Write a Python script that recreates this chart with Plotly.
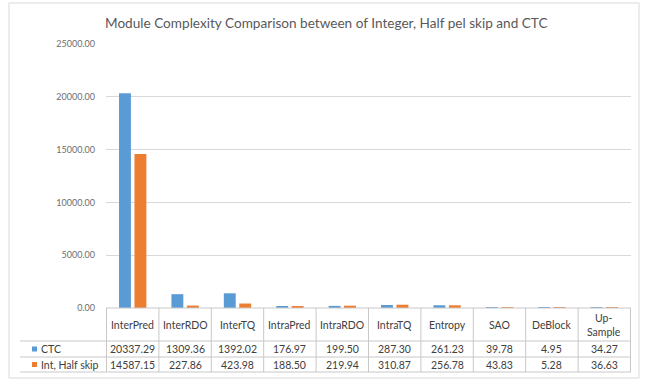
import plotly.graph_objects as go

# Module names and per-module complexity for the two configurations
modules = ["InterPred", "InterRDO", "InterTQ", "IntraPred", "IntraRDO",
           "IntraTQ", "Entropy", "SAO", "DeBlock", "Up-Sample"]
module_labels = ["InterPred", "InterRDO", "InterTQ", "IntraPred", "IntraRDO",
                 "IntraTQ", "Entropy", "SAO", "DeBlock", "Up-<br>Sample"]
ctc = [20337.29, 1309.36, 1392.02, 176.97, 199.50, 287.30, 261.23, 39.78, 4.95, 34.27]
int_half = [14587.15, 227.86, 423.98, 188.50, 219.94, 310.87, 256.78, 43.83, 5.28, 36.63]
series_names = ["CTC", "Int, Half skip"]
series_values = [ctc, int_half]
series_colors = ["#5B9BD5", "#ED7D31"]

title_text = "Module Complexity Comparison between of Integer, Half pel skip and CTC"

W, H = 650, 380
L, R, T, B = 106, 19, 44, 72
PW, PH = W - L - R, H - T - B
FONT = "Lato, 'Open Sans', sans-serif"
TEXT = "#404040"
GRID = "#D9D9D9"
LINE = "#C8C8C8"
TABLE_SIZE = 10.5


def px(x):
    return (x - L) / PW


def py(y):
    return (H - B - y) / PH


fig = go.Figure()
for name, vals, col in zip(series_names, series_values, series_colors):
    fig.add_trace(go.Bar(x=modules, y=vals, name=name, marker_color=col,
                         marker_line_width=0, showlegend=False))

shapes = []
annotations = []

# outer chart frame
shapes.append(dict(type="rect", xref="paper", yref="paper",
                   x0=px(9), x1=px(639), y0=py(378), y1=py(3),
                   line=dict(color=GRID, width=1), fillcolor="rgba(0,0,0,0)"))

# data table grid
row_top, row_hdr, row_mid, row_bot = 308, 341, 357, 372
shapes.append(dict(type="line", xref="paper", yref="paper",
                   x0=0, x1=1, y0=py(row_top), y1=py(row_top),
                   line=dict(color=LINE, width=1)))
for yy in (row_hdr, row_mid, row_bot):
    shapes.append(dict(type="line", xref="paper", yref="paper",
                       x0=px(20), x1=1, y0=py(yy), y1=py(yy),
                       line=dict(color=LINE, width=1)))
for k in range(len(modules) + 1):
    shapes.append(dict(type="line", xref="x", yref="paper",
                       x0=k - 0.5, x1=k - 0.5, y0=py(row_top), y1=py(row_bot),
                       line=dict(color=LINE, width=1)))

# header row: module names
for m, lab in zip(modules, module_labels):
    annotations.append(dict(x=m, xref="x", y=py((row_top + row_hdr) / 2), yref="paper",
                            text=lab, showarrow=False, xanchor="center", yanchor="middle",
                            font=dict(family=FONT, size=TABLE_SIZE, color=TEXT)))

# series rows: legend key, name and values
row_centers = [(row_hdr + row_mid) / 2, (row_mid + row_bot) / 2]
for name, vals, col, yc in zip(series_names, series_values, series_colors, row_centers):
    shapes.append(dict(type="rect", xref="paper", yref="paper",
                       x0=px(32), x1=px(37), y0=py(yc + 2.5), y1=py(yc - 2.5),
                       line=dict(width=0), fillcolor=col))
    annotations.append(dict(x=px(39), xref="paper", y=py(yc), yref="paper",
                            text=name, showarrow=False, xanchor="left", yanchor="middle",
                            font=dict(family=FONT, size=TABLE_SIZE, color=TEXT)))
    for m, v in zip(modules, vals):
        annotations.append(dict(x=m, xref="x", y=py(yc), yref="paper",
                                text=f"{v:.2f}", showarrow=False,
                                xanchor="center", yanchor="middle",
                                font=dict(family=FONT, size=TABLE_SIZE, color=TEXT)))

# chart title
annotations.append(dict(x=px(326.5), xref="paper", y=py(23), yref="paper",
                        text=title_text, showarrow=False, xanchor="center", yanchor="middle",
                        font=dict(family=FONT, size=13.6, color="#595959")))

fig.update_layout(
    width=W, height=H,
    margin=dict(l=L, r=R, t=T, b=B),
    paper_bgcolor="white", plot_bgcolor="white",
    barmode="group", bargap=0.41, bargroupgap=0.23,
    font=dict(family=FONT, color="#595959"),
    shapes=shapes, annotations=annotations,
    xaxis=dict(showticklabels=False, showgrid=False, zeroline=False,
               showline=False, ticks=""),
    yaxis=dict(range=[0, 25000], dtick=5000, tickformat=".2f",
               showgrid=True, gridcolor=GRID, gridwidth=1,
               zeroline=False, showline=False, ticks="",
               ticklabelstandoff=10,
               tickfont=dict(family=FONT, size=9, color="#6E6E6E")),
)

fig.write_html("out.html")
